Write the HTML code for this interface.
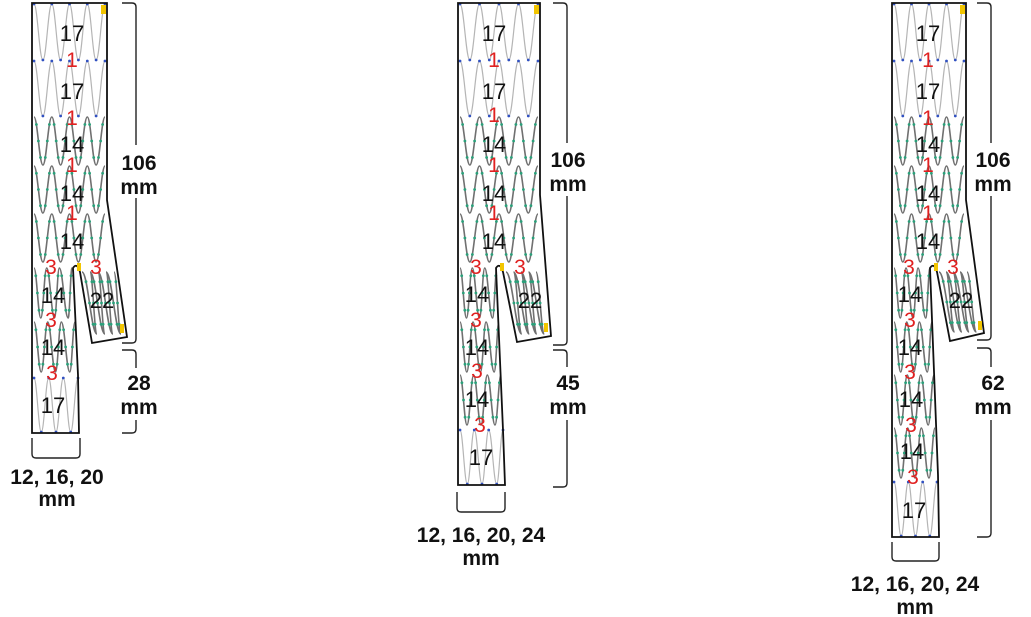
<!DOCTYPE html>
<html><head><meta charset="utf-8"><style>
html,body{margin:0;padding:0;background:#fff;}
svg{display:block;}
text{font-family:"Liberation Sans",sans-serif;}
.n{font-size:22px;fill:#111;text-anchor:middle;}
.r{font-size:21px;fill:#e02020;text-anchor:middle;}
.l{font-size:21px;font-weight:bold;fill:#111;text-anchor:middle;}
.o{fill:none;stroke:#111;stroke-width:1.8;}
.b{fill:none;stroke:#222;stroke-width:1.4;}
</style></head><body>
<svg id="s" width="1031" height="617" viewBox="0 0 1031 617" xmlns="http://www.w3.org/2000/svg">
<g id="rings"></g>
<path class="o" d="M32,3 H107 V200 L127,337 L92,343 L80,272 Q77,262 73,268 L78,375 L79,433 H32 Z"/>
<path class="o" d="M458,3 H540 V195 L551,336 L517,342 L503,272 Q500,262 496,268 L503,430 L505,485 H458 Z"/>
<path class="o" d="M892,3 H966 V200 L984,333 L950,341 L937,272 Q934,262 930,268 L938,475 L939,537 H892 Z"/>
<g fill="#f2c500">
<rect x="101" y="5" width="5" height="9"/><rect x="77" y="263" width="4" height="8"/><rect x="120" y="324" width="4" height="9"/>
<rect x="534" y="5" width="5" height="9"/><rect x="500" y="263" width="4" height="8"/><rect x="544" y="323" width="4" height="9"/>
<rect x="960" y="5" width="5" height="9"/><rect x="934" y="263" width="4" height="8"/><rect x="978" y="321" width="4" height="9"/>
</g>
<g class="b">
<path d="M122,3 H132 Q136,3 136,7 V145 M136,198 V339 Q136,343 132,343 H122"/>
<path d="M122,350 H132 Q136,350 136,354 V368 M136,420 V429 Q136,433 132,433 H122"/>
<path d="M32,438 V454 Q32,458 36,458 H76 Q80,458 80,454 V438"/>
<path d="M553,3 H563 Q567,3 567,7 V143 M567,196 V341 Q567,345 563,345 H553"/>
<path d="M553,350 H563 Q567,350 567,354 V367 M567,420 V483 Q567,487 563,487 H553"/>
<path d="M457,492 V508 Q457,512 461,512 H501 Q505,512 505,508 V492"/>
<path d="M977,3 H987 Q991,3 991,7 V143 M991,196 V336 Q991,340 987,340 H977"/>
<path d="M977,348 H987 Q991,348 991,352 V367 M991,420 V533 Q991,537 987,537 H977"/>
<path d="M892,542 V557 Q892,561 896,561 H935 Q939,561 939,557 V542"/>
</g>
<text class="l" x="139" y="170">106</text><text class="l" x="139" y="194">mm</text>
<text class="l" x="139" y="390">28</text><text class="l" x="139" y="414">mm</text>
<text class="l" x="57" y="484">12, 16, 20</text><text class="l" x="57" y="506">mm</text>
<text class="l" x="568" y="167">106</text><text class="l" x="568" y="191">mm</text>
<text class="l" x="568" y="390">45</text><text class="l" x="568" y="414">mm</text>
<text class="l" x="481" y="542">12, 16, 20, 24</text><text class="l" x="481" y="565">mm</text>
<text class="l" x="993" y="167">106</text><text class="l" x="993" y="191">mm</text>
<text class="l" x="993" y="390">62</text><text class="l" x="993" y="414">mm</text>
<text class="l" x="915" y="591">12, 16, 20, 24</text><text class="l" x="915" y="614">mm</text>
<text class="n" x="72" y="41">17</text><text class="r" x="72" y="67">1</text>
<text class="n" x="72" y="99">17</text><text class="r" x="72" y="125">1</text>
<text class="n" x="72" y="152">14</text><text class="r" x="72" y="172">1</text>
<text class="n" x="72" y="201">14</text><text class="r" x="72" y="220">1</text>
<text class="n" x="72" y="249">14</text>
<text class="r" x="51" y="274">3</text><text class="r" x="96" y="274">3</text>
<text class="n" x="53" y="303">14</text><text class="n" x="102" y="308">22</text>
<text class="r" x="51" y="327">3</text><text class="n" x="53" y="355">14</text>
<text class="r" x="52" y="380">3</text><text class="n" x="53" y="413">17</text>
<text class="n" x="494" y="41">17</text><text class="r" x="494" y="67">1</text>
<text class="n" x="494" y="99">17</text><text class="r" x="494" y="122">1</text>
<text class="n" x="494" y="152">14</text><text class="r" x="494" y="172">1</text>
<text class="n" x="494" y="201">14</text><text class="r" x="494" y="220">1</text>
<text class="n" x="494" y="249">14</text>
<text class="r" x="476" y="274">3</text><text class="r" x="520" y="274">3</text>
<text class="n" x="477" y="302">14</text><text class="n" x="530" y="308">22</text>
<text class="r" x="476" y="327">3</text><text class="n" x="477" y="355">14</text>
<text class="r" x="477" y="378">3</text><text class="n" x="477" y="407">14</text>
<text class="r" x="480" y="432">3</text><text class="n" x="481" y="465">17</text>
<text class="n" x="928" y="41">17</text><text class="r" x="928" y="67">1</text>
<text class="n" x="928" y="99">17</text><text class="r" x="928" y="125">1</text>
<text class="n" x="928" y="152">14</text><text class="r" x="928" y="172">1</text>
<text class="n" x="928" y="201">14</text><text class="r" x="928" y="220">1</text>
<text class="n" x="928" y="249">14</text>
<text class="r" x="909" y="274">3</text><text class="r" x="953" y="274">3</text>
<text class="n" x="910" y="302">14</text><text class="n" x="961" y="308">22</text>
<text class="r" x="910" y="327">3</text><text class="n" x="910" y="355">14</text>
<text class="r" x="910" y="379">3</text><text class="n" x="911" y="407">14</text>
<text class="r" x="911" y="432">3</text><text class="n" x="912" y="459">14</text>
<text class="r" x="913" y="484">3</text><text class="n" x="914" y="518">17</text>
</svg>
<script>
(function(){
var g=document.getElementById('rings'),out='';
function ring(lt,rt,lb,rb,y0,y1,n,type){
 var P=[],dots=[],k=2*n;
 for(var i=0;i<=k;i++){
  var f=i/k, y=(i%2==0)?y0:y1, t=(y-y0)/(y1-y0);
  var l=lt+(lb-lt)*t, r=rt+(rb-rt)*t;
  P.push([l+(r-l)*f,y]);
 }
 var col=type=='g'?'#b5b5b5':'#707070';
 var d='M'+P[0][0].toFixed(1)+','+P[0][1];
 for(var j=1;j<P.length;j++){
  var a=P[j-1],b=P[j],dx=b[0]-a[0];
  d+=' C'+(a[0]+dx*0.4).toFixed(1)+','+a[1]+' '+(b[0]-dx*0.4).toFixed(1)+','+b[1]+' '+b[0].toFixed(1)+','+b[1];
  if(type=='d'){
   [0.25,0.5,0.75].forEach(function(tt){
    var u=1-tt,x=u*u*u*a[0]+3*u*u*tt*(a[0]+dx*0.4)+3*u*tt*tt*(b[0]-dx*0.4)+tt*tt*tt*b[0];
    var y=u*u*u*a[1]+3*u*u*tt*a[1]+3*u*tt*tt*b[1]+tt*tt*tt*b[1];
    dots.push([x,y]);});
  }
 }
 if(type=='g'){P.forEach(function(p){dots.push(p);});}
 out+='<path d="'+d+'" fill="none" stroke="'+col+'" stroke-width="'+(type=='g'?1.2:1.6)+'"/>';
 var dc=type=='g'?'#3050c0':'#2aa07a';
 dots.forEach(function(p){out+='<circle cx="'+p[0].toFixed(1)+'" cy="'+p[1].toFixed(1)+'" r="1.4" fill="'+dc+'"/>';});
}
function body(L,R){
 ring(L,R,L,R,4,60,4,'g');ring(L,R,L,R,61,116,4,'g');
 ring(L,R,L,R,117,165,4,'d');ring(L,R,L,R,166,213,4,'d');ring(L,R,L,R,214,262,4,'d');
}
body(34,105);
ring(34,72,34,75,268,318,3,'d');ring(34,75,34,77,322,372,3,'d');ring(34,78,34,78,378,432,3,'g');
ring(82,114,93,125,272,334,4,'d');
body(460,538);
ring(460,497,460,499,268,318,3,'d');ring(460,499,460,501,322,372,3,'d');ring(460,501,460,502,375,425,3,'d');ring(460,503,460,504,430,484,3,'g');
ring(506,536,518,548,272,334,4,'d');
body(894,964);
ring(894,930,894,932,268,318,3,'d');ring(894,932,894,934,322,372,3,'d');ring(894,934,894,935,375,425,3,'d');ring(894,935,894,936,428,478,3,'d');ring(894,937,894,937,482,536,3,'g');
ring(939,967,951,980,272,332,4,'d');
g.innerHTML=out;
})();
</script>
</body></html>
